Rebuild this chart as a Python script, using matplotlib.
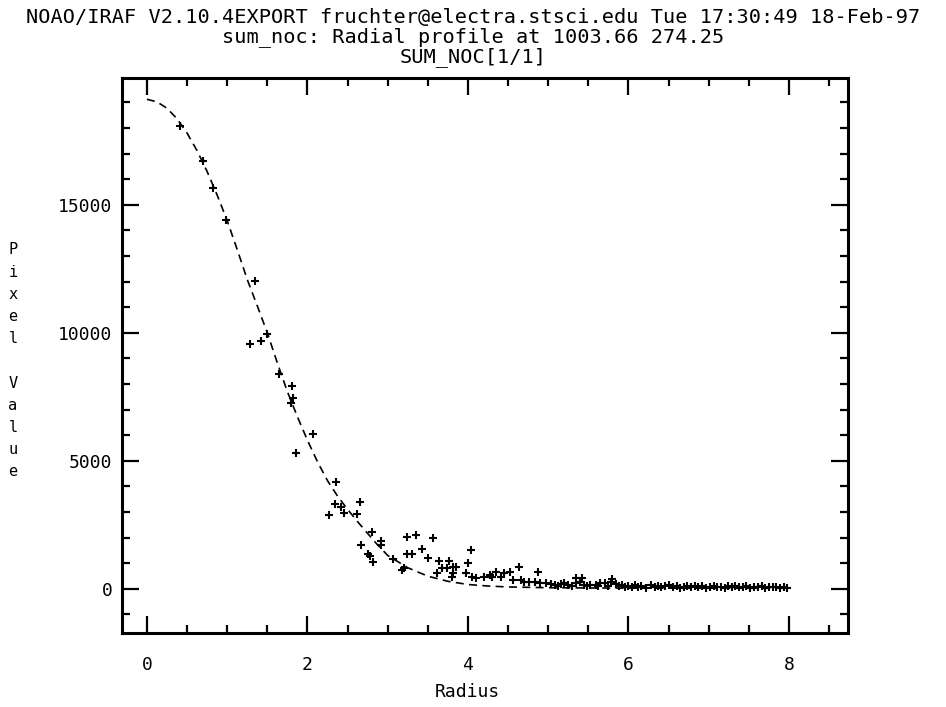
import matplotlib
matplotlib.use("Agg")
import matplotlib.pyplot as plt
from matplotlib.ticker import MultipleLocator

title_lines = [
    "NOAO/IRAF V2.10.4EXPORT fruchter@electra.stsci.edu Tue 17:30:49 18-Feb-97",
    "sum_noc: Radial profile at 1003.66 274.25",
    "SUM_NOC[1/1]",
]
x_label = "Radius"
y_label = "P\ni\nx\ne\nl\n\nV\na\nl\nu\ne"

# fitted profile (dashed)
fit_r = [0, 0.125, 0.25, 0.375, 0.5, 0.625, 0.75, 0.875, 1.0, 1.125, 1.25, 1.375,
         1.5, 1.625, 1.75, 1.875, 2.0, 2.125, 2.25, 2.375, 2.5, 2.625, 2.75,
         2.875, 3.0, 3.25, 3.5, 3.75, 4.0, 4.25, 4.5, 5.0, 5.5, 6.0, 7.0, 8.0]
fit_v = [19120, 19020, 18770, 18360, 17800, 17110, 16300, 15380, 14380, 13250,
         12080, 11050, 10000, 8820, 7700, 6720, 5800, 4960, 4220, 3620, 3100,
         2620, 2160, 1710, 1300, 820, 490, 290, 165, 105, 70, 40, 30, 25, 20, 20]

# measured pixels
pix_r = [0.41, 0.70, 0.82, 0.99, 1.35, 1.50, 1.42, 1.29, 1.65, 1.81, 1.82, 1.79,
         2.07, 1.86, 2.35, 2.65, 2.34, 2.42, 2.46, 2.27, 2.62, 2.80, 2.92, 2.92,
         2.67, 2.76, 2.78, 2.82, 3.06, 3.20, 3.18, 3.24, 3.35, 3.57, 3.24, 3.30,
         3.43, 3.50, 3.64, 3.76, 3.61, 3.68, 3.74, 3.81, 3.85, 3.80, 3.81, 4.04,
         4.00, 3.98, 4.05, 4.10, 4.20, 4.28, 4.30, 4.35, 4.41, 4.45, 4.52, 4.56,
         4.63, 4.66, 4.70, 4.76, 4.87, 4.84, 4.90, 4.97,
         5.03, 5.08, 5.12, 5.16, 5.20, 5.25, 5.30, 5.35, 5.35, 5.40, 5.42, 5.44,
         5.48, 5.52, 5.59, 5.62, 5.65, 5.71, 5.74, 5.78, 5.80, 5.85, 5.88, 5.92,
         5.96,
         6.00, 6.04, 6.08, 6.12, 6.16, 6.22, 6.28, 6.33, 6.37, 6.41, 6.46, 6.50,
         6.55, 6.60, 6.64, 6.69, 6.73, 6.78, 6.83, 6.87, 6.92, 6.97, 7.01, 7.06,
         7.10, 7.15, 7.20, 7.24, 7.29, 7.33, 7.38, 7.43, 7.47, 7.52, 7.56, 7.61,
         7.66, 7.70, 7.75, 7.80, 7.84, 7.89, 7.94, 7.98]
pix_v = [18090, 16720, 15660, 14410, 12030, 9960, 9690, 9570, 8400, 7930, 7460, 7270,
         6050, 5310, 4180, 3400, 3320, 3200, 2970, 2890, 2930, 2230, 1870, 1720,
         1720, 1370, 1290, 1050, 1170, 820, 740, 2030, 2110, 1990, 1370, 1370,
         1560, 1210, 1090, 1090, 620, 820, 820, 860, 860, 470, 620, 1520,
         1020, 620, 470, 430, 470, 550, 470, 660, 470, 620, 660, 350,
         860, 350, 270, 270, 660, 270, 230, 230,
         200, 150, 100, 200, 230, 160, 120, 430, 230, 270, 430, 150,
         100, 160, 160, 100, 230, 230, 120, 270, 390, 200, 100, 160,
         60,
         120, 80, 150, 60, 100, 40, 130, 70, 110, 50, 90, 140,
         60, 100, 40, 80, 120, 50, 90, 60, 100, 40, 70, 110,
         50, 80, 40, 90, 60, 100, 50, 70, 120, 40, 80, 60,
         90, 40, 70, 50, 80, 40, 60, 30]

x_ticks = [0, 2, 4, 6, 8]
y_ticks = [0, 5000, 10000, 15000]

mono = "DejaVu Sans Mono"
plt.rcParams["font.family"] = mono

fig = plt.figure(figsize=(9.46, 7.07), dpi=100)
ax = fig.add_axes([0.129, 0.105, 0.767, 0.785])

ax.plot(fit_r, fit_v, color="black", lw=1.2, linestyle=(0, (4.8, 3.2)))
ax.plot(pix_r, pix_v, linestyle="none", marker="+", color="black",
        markersize=6, markeredgewidth=1.5)

ax.set_xlim(-0.31, 8.73)
ax.set_ylim(-1720, 19960)
ax.set_xticks(x_ticks)
ax.set_yticks(y_ticks)
ax.xaxis.set_minor_locator(MultipleLocator(0.5))
ax.yaxis.set_minor_locator(MultipleLocator(1000))
ax.tick_params(which="both", direction="in", top=True, right=True, width=1.6,
               color="black")
ax.tick_params(which="major", length=12)
ax.tick_params(which="minor", length=6)
ax.tick_params(axis="x", which="major", pad=17, labelsize=13)
ax.tick_params(axis="y", which="major", pad=7, labelsize=13)
for s in ax.spines.values():
    s.set_linewidth(2.2)

fig.text(467 / 946, 1 - 692 / 707, x_label, ha="center", va="center", fontsize=13)
fig.text(13 / 946, 1 - 361 / 707, y_label, ha="center", va="center", fontsize=11,
         linespacing=1.60)

for txt, yc in zip(title_lines, [18, 37, 57]):
    fig.text(0.5, 1 - yc / 707, txt, ha="center", va="center", fontsize=14.6)

fig.savefig("out.png", dpi=100, facecolor="white")
